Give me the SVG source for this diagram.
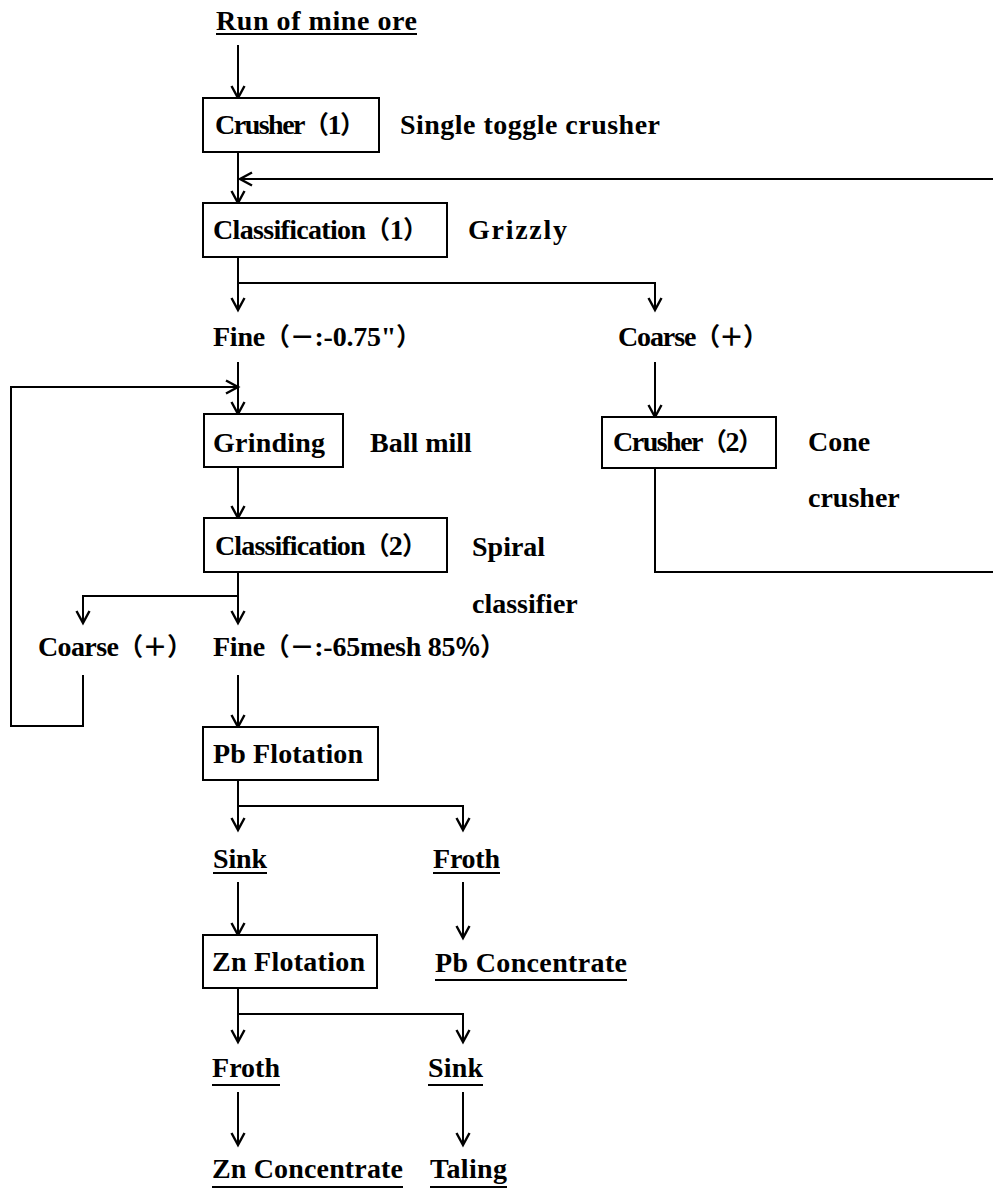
<svg xmlns="http://www.w3.org/2000/svg" width="993" height="1191" viewBox="0 0 993 1191">
<style>
text{font-family:"Liberation Serif","Noto Sans CJK JP",serif;font-weight:bold;font-size:28px;fill:#000}
.fw{font-size:25px}
.box{fill:#fff;stroke:#000;stroke-width:2}
.ul{stroke:#000;stroke-width:2}
.con{fill:none;stroke:#000;stroke-width:2;marker-end:url(#ah)}
</style>
<defs>
<marker id="ah" markerUnits="userSpaceOnUse" markerWidth="20" markerHeight="20" viewBox="-14 -10 20 20" refX="0" refY="0" orient="auto" overflow="visible">
<path d="M-12,-6.5 L0,0 L-12,6.5" fill="none" stroke="#000" stroke-width="2.4"/>
</marker>
</defs>
<rect width="993" height="1191" fill="#fff"/>
<g id="connectors">
<path class="con" d="M238,45 V98"/>
<path class="con" d="M238,152 V203"/>
<path class="con" d="M655,468 V572 H996 V179 H240"/>
<path class="con" d="M238,257 V310"/>
<path class="con" d="M238,283 H655 V310"/>
<path class="con" d="M238,362 V414"/>
<path class="con" d="M655,362 V417"/>
<path class="con" d="M238,467 V518"/>
<path class="con" d="M238,572 V623"/>
<path class="con" d="M238,596 H83 V623"/>
<path class="con" d="M83,675 V726 H11 V387 H238"/>
<path class="con" d="M238,675 V727"/>
<path class="con" d="M238,780 V830"/>
<path class="con" d="M238,806 H463 V830"/>
<path class="con" d="M238,882 V935"/>
<path class="con" d="M463,882 V938"/>
<path class="con" d="M238,988 V1042"/>
<path class="con" d="M238,1014 H463 V1042"/>
<path class="con" d="M238,1092 V1145"/>
<path class="con" d="M463,1092 V1145"/>
</g>
<g id="run-of-mine-ore">
<text x="216" y="30" textLength="201" lengthAdjust="spacing">Run of mine ore</text>
<line class="ul" x1="216" y1="34" x2="417" y2="34"/>
</g>
<g id="crusher1">
<rect class="box" x="203" y="98" width="176" height="54"/>
<text x="215" y="134" textLength="150" lengthAdjust="spacing">Crusher<tspan class="fw">（</tspan>1<tspan class="fw">）</tspan></text>
</g>
<g id="crusher1-label"><text x="400" y="134" textLength="260" lengthAdjust="spacing">Single toggle crusher</text></g>
<g id="classification1">
<rect class="box" x="203" y="203" width="244" height="54"/>
<text x="213" y="239" textLength="215" lengthAdjust="spacing">Classification<tspan class="fw">（</tspan>1<tspan class="fw">）</tspan></text>
</g>
<g id="classification1-label"><text x="468" y="239" textLength="99" lengthAdjust="spacing">Grizzly</text></g>
<g id="fine1"><text x="213" y="346" textLength="208" lengthAdjust="spacing">Fine<tspan class="fw">（－</tspan>:-0.75"<tspan class="fw">）</tspan></text></g>
<g id="coarse1"><text x="618" y="346" textLength="150" lengthAdjust="spacing">Coarse<tspan class="fw">（＋）</tspan></text></g>
<g id="crusher2">
<rect class="box" x="602" y="417" width="174" height="51"/>
<text x="613" y="451" textLength="150" lengthAdjust="spacing">Crusher<tspan class="fw">（</tspan>2<tspan class="fw">）</tspan></text>
</g>
<g id="crusher2-label">
<text x="808" y="451">Cone</text>
<text x="808" y="507">crusher</text>
</g>
<g id="grinding">
<rect class="box" x="204" y="414" width="139" height="53"/>
<text x="213" y="452" textLength="112" lengthAdjust="spacing">Grinding</text>
</g>
<g id="grinding-label"><text x="370" y="452">Ball mill</text></g>
<g id="classification2">
<rect class="box" x="204" y="518" width="243" height="54"/>
<text x="215" y="555" textLength="212" lengthAdjust="spacing">Classification<tspan class="fw">（</tspan>2<tspan class="fw">）</tspan></text>
</g>
<g id="classification2-label">
<text x="472" y="556">Spiral</text>
<text x="472" y="613">classifier</text>
</g>
<g id="coarse2"><text x="38" y="656" textLength="154" lengthAdjust="spacing">Coarse<tspan class="fw">（＋）</tspan></text></g>
<g id="fine2"><text x="213" y="656" textLength="292" lengthAdjust="spacing">Fine<tspan class="fw">（－</tspan>:-65mesh 85<tspan class="fw">％）</tspan></text></g>
<g id="pb-flotation">
<rect class="box" x="203" y="727" width="175" height="53"/>
<text x="213" y="763" textLength="150" lengthAdjust="spacing">Pb Flotation</text>
</g>
<g id="sink1">
<text x="213" y="868" textLength="54" lengthAdjust="spacing">Sink</text>
<line class="ul" x1="213" y1="873" x2="267" y2="873"/>
</g>
<g id="froth1">
<text x="433" y="868" textLength="67" lengthAdjust="spacing">Froth</text>
<line class="ul" x1="433" y1="873" x2="500" y2="873"/>
</g>
<g id="zn-flotation">
<rect class="box" x="203" y="935" width="174" height="53"/>
<text x="212" y="971" textLength="153" lengthAdjust="spacing">Zn Flotation</text>
</g>
<g id="pb-concentrate">
<text x="435" y="972" textLength="192" lengthAdjust="spacing">Pb Concentrate</text>
<line class="ul" x1="435" y1="980" x2="627" y2="980"/>
</g>
<g id="froth2">
<text x="212" y="1077" textLength="68" lengthAdjust="spacing">Froth</text>
<line class="ul" x1="212" y1="1085" x2="280" y2="1085"/>
</g>
<g id="sink2">
<text x="428" y="1077" textLength="55" lengthAdjust="spacing">Sink</text>
<line class="ul" x1="428" y1="1085" x2="483" y2="1085"/>
</g>
<g id="zn-concentrate">
<text x="212" y="1178" textLength="191" lengthAdjust="spacing">Zn Concentrate</text>
<line class="ul" x1="212" y1="1187" x2="403" y2="1187"/>
</g>
<g id="taling">
<text x="430" y="1178" textLength="77" lengthAdjust="spacing">Taling</text>
<line class="ul" x1="430" y1="1187" x2="507" y2="1187"/>
</g>
</svg>
